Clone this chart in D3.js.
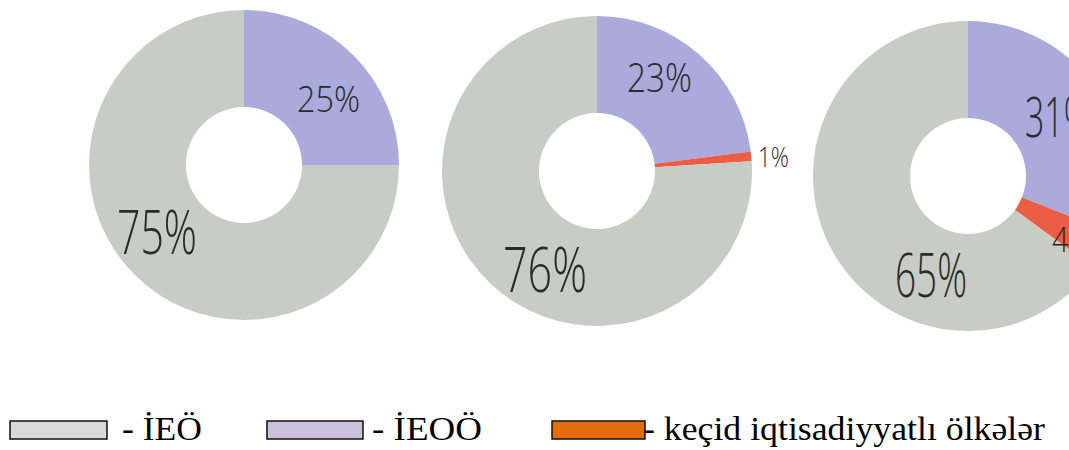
<!DOCTYPE html>
<html><head><meta charset="utf-8">
<script src="https://cdn.jsdelivr.net/npm/d3@7"></script>
<style>html,body{margin:0;padding:0;background:#fff;overflow:hidden}</style>
</head><body><svg id="c" width="1069" height="450"></svg>
<script>
// ---- data ----
const seriesKeys = ["ieoo", "kecid", "ieo"];
const seriesNames = ["İEÖ", "İEOÖ", "keçid iqtisadiyyatlı ölkələr"];
const ieoValues = [75, 76, 65];     // grey
const ieooValues = [25, 23, 31];    // purple
const kecidValues = [0, 1, 4];      // red / orange

// ---- layout / style ----
const W = 1069, H = 450;
const centers = [[244, 165], [597, 171], [968, 176]];
const outerR = 155, innerR = 58;
const sliceColor = {ieoo: "#aaaadc", kecid: "#eb5e45", ieo: "#c8ccc4"};
const legendColor = ["#d9d9d9", "#ccc0da", "#e46c0a"];
const labelLayout = [
  [{k: "ieoo", dx: 84.5, dy: -53, size: 37, w: 63}, {k: "ieo", dx: -87, dy: 89, size: 60, w: 80}],
  [{k: "ieoo", dx: 62.5, dy: -79, size: 41, w: 65}, {k: "kecid", dx: 176.5, dy: -4, size: 28, w: 31},
   {k: "ieo", dx: -52, dy: 121, size: 62, w: 84}],
  [{k: "ieoo", dx: 90, dy: -39, size: 56, w: 66}, {k: "kecid", dx: 104, dy: 76, size: 35, w: 40},
   {k: "ieo", dx: -37, dy: 121, size: 61, w: 72}]
];

const svg = d3.select("#c");
svg.append("rect").attr("width", W).attr("height", H).attr("fill", "#fff");

const pie = d3.pie().sort(null).value(d => d.v);
const arc = d3.arc().innerRadius(innerR).outerRadius(outerR);

centers.forEach((c, i) => {
  const vals = {ieoo: ieooValues[i], kecid: kecidValues[i], ieo: ieoValues[i]};
  const data = seriesKeys.map(k => ({k, v: vals[k]}));
  const g = svg.append("g").attr("transform", `translate(${c[0]},${c[1]})`);
  g.selectAll("path").data(pie(data).filter(d => d.data.v > 0)).join("path")
    .attr("d", arc)
    .attr("fill", d => sliceColor[d.data.k]);
  labelLayout[i].forEach(l => {
    g.append("text")
      .attr("x", l.dx).attr("y", l.dy)
      .attr("text-anchor", "middle")
      .attr("font-family", "'Liberation Sans Narrow','Open Sans',sans-serif")
      .attr("font-weight", 300)
      .attr("font-size", l.size)
      .attr("textLength", l.w)
      .attr("lengthAdjust", "spacingAndGlyphs")
      .attr("fill", l.k === "kecid" && i === 2 ? "#3a1a12" : "#2b2b2b")
      .text(vals[l.k] + "%");
  });
});

// ---- legend ----
const legendLayout = [
  {x: 10, w: 97, tx: 122, tw: 80},
  {x: 267, w: 96, tx: 372, tw: 110},
  {x: 552, w: 93, tx: 643, tw: 402}
];
const lg = svg.append("g");
seriesNames.forEach((name, i) => {
  const L = legendLayout[i];
  lg.append("rect").attr("x", L.x).attr("y", 421).attr("width", L.w).attr("height", 18)
    .attr("fill", legendColor[i]).attr("stroke", "#111").attr("stroke-width", 1.5);
  lg.append("text").attr("x", L.tx).attr("y", 440)
    .attr("font-family", "'Liberation Serif','Times New Roman',serif")
    .attr("font-size", 33)
    .attr("textLength", L.tw).attr("lengthAdjust", "spacingAndGlyphs")
    .attr("fill", "#000")
    .text("- " + name);
});
</script></body></html>
